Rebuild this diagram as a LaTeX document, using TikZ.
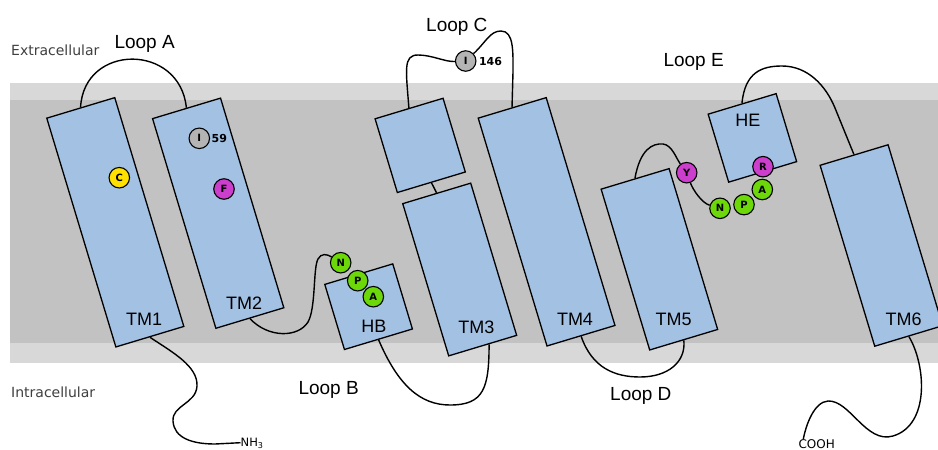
\documentclass[tikz,border=0pt]{standalone}
\usepackage{fontspec}
\newfontfamily\labelfont{Liberation Sans}
\newfontfamily\notefont{DejaVu Sans}
\usetikzlibrary{calc}
\pgfdeclarelayer{membrane}
\pgfdeclarelayer{chain}
\pgfsetlayers{membrane,chain,main}

\definecolor{bandlight}{HTML}{D8D8D8}
\definecolor{banddark}{HTML}{C2C2C2}
\definecolor{helixblue}{HTML}{A2C1E3}
\definecolor{resyellow}{HTML}{FFE000}
\definecolor{resmagenta}{HTML}{CC3FCC}
\definecolor{resgreen}{HTML}{6CD80A}
\definecolor{resgray}{HTML}{B4B4B4}
\definecolor{sidegray}{HTML}{3F3F3F}

\begin{document}
\begin{tikzpicture}[x=1pt, y=-1pt,
  helix/.style={rectangle, draw=black, line width=1.3pt, fill=helixblue,
    minimum width=71pt, inner sep=0pt, rotate=16.8},
  residue/.style={circle, draw=black, line width=1.1pt, minimum size=20.5pt,
    inner sep=0pt, font=\notefont\bfseries\fontsize{10}{10}\selectfont},
  chainline/.style={line width=1.4pt, draw=black},
  tmlabel/.style={anchor=base, inner sep=0pt, font=\labelfont\fontsize{18}{18}\selectfont},
  looplabel/.style={anchor=base west, inner sep=0pt, font=\labelfont\fontsize{19}{19}\selectfont},
  sidelabel/.style={anchor=base west, inner sep=0pt, text=sidegray, font=\notefont\fontsize{14}{14}\selectfont},
  numlabel/.style={anchor=west, inner sep=0pt, font=\notefont\bfseries\fontsize{11}{11}\selectfont},
  endlabel/.style={inner sep=0pt, font=\notefont\fontsize{12}{12}\selectfont}
]
\useasboundingbox (0,0) rectangle (938,450);

% membrane bands
\begin{pgfonlayer}{membrane}
  \fill[bandlight] (10,83) rectangle (938,363);
  \fill[banddark] (10,100) rectangle (938,343);
\end{pgfonlayer}

% helices
\node[helix, minimum height=239pt] (tm1) at (115.3,222.3) {};
\node[helix, minimum height=219pt] (tm2) at (218.2,213.2) {};
\node[helix, minimum height=77pt]  (h3a) at (420.2,145.4) {};
\node[helix, minimum height=159pt] (tm3) at (459.7,269.5) {};
\node[helix, minimum height=238pt] (tm4) at (546.6,221.8) {};
\node[helix, minimum height=68pt]  (hb)  at (368.6,306.7) {};
\node[helix, minimum height=168pt] (tm5) at (659.4,259.3) {};
\node[helix, minimum height=71pt]  (he)  at (752.4,137.9) {};
\node[helix, minimum height=189pt] (tm6) at (881.4,245.5) {};

% helix names
\node[tmlabel] (tm1lab) at (144.2,325) {TM1};
\node[tmlabel] (tm2lab) at (244.2,309.3) {TM2};
\node[tmlabel] (hblab)  at (373.8,332.7) {HB};
\node[tmlabel] (tm3lab) at (476.3,333.3) {TM3};
\node[tmlabel] (tm4lab) at (575,325) {TM4};
\node[tmlabel] (tm5lab) at (673.7,325.7) {TM5};
\node[tmlabel] (tm6lab) at (903.7,325.7) {TM6};
\node[tmlabel] (helab)  at (747.8,126) {HE};

% residues
\node[residue, fill=resyellow]  (resC)    at (119.3,177.7) {C};
\node[residue, fill=resgray]    (resI59)  at (199.3,138.3) {I};
\node[residue, fill=resmagenta] (resF)    at (224,189) {F};
\node[residue, fill=resgray]    (resI146) at (465.7,61) {I};
\node[residue, fill=resgreen]   (resNb)   at (340.7,262.7) {N};
\node[residue, fill=resgreen]   (resPb)   at (357.7,280.7) {P};
\node[residue, fill=resgreen]   (resAb)   at (373.3,296.7) {A};
\node[residue, fill=resmagenta] (resY)    at (686.7,172.7) {Y};
\node[residue, fill=resgreen]   (resNe)   at (720,208.3) {N};
\node[residue, fill=resgreen]   (resPe)   at (744,204.6) {P};
\node[residue, fill=resgreen]   (resAe)   at (762.3,189.5) {A};
\node[residue, fill=resmagenta] (resR)    at (763,166.7) {R};

\node[numlabel] (num59)  at (211.5,138.6) {59};
\node[numlabel] (num146) at (478.8,61.5) {146};

% loop names and sides
\node[looplabel] (loopA) at (114.3,48.3) {Loop A};
\node[looplabel] (loopB) at (298.3,394.5) {Loop B};
\node[looplabel] (loopC) at (426,31.7) {Loop C};
\node[looplabel] (loopD) at (610,400) {Loop D};
\node[looplabel] (loopE) at (663.3,66.7) {Loop E};
\node[sidelabel] (extra) at (11,55) {Extracellular};
\node[sidelabel] (intra) at (11,397.3) {Intracellular};

\node[endlabel, anchor=base west, font=\notefont\fontsize{11.5}{11.5}\selectfont] (nh3) at (240.5,446.5) {NH\textsubscript{3}};
\node[endlabel, anchor=base] (cooh) at (816.7,448) {COOH};

% polypeptide chain
\begin{pgfonlayer}{chain}
  % N-terminus
  \draw[chainline] (tm1.south) .. controls (172,352) and (198,366) .. (197,386)
    .. controls (196,404) and (172,405) .. (173,421)
    .. controls (174,438) and (192,444) .. (215,444) -- ([yshift=3.8pt]nh3.base west);
  % loop A
  \draw[chainline] (tm1.north) .. controls (84,43) and (180,43) .. (tm2.north);
  % loop B
  \draw[chainline] (tm2.south) .. controls (268,338) and (298,338) .. (308,322)
    .. controls (316,308) and (313,268) .. (318,259)
    .. controls (321,253) and (327,254) .. (resNb);
  \draw[chainline] (hb.south) .. controls (398,385) and (420,405) .. (450,405)
    .. controls (484,405) and (489,388) .. ($(tm3.south)!0.18!(tm3.south east)$);
  % short link inside TM3
  \draw[chainline] (h3a.south) -- (tm3.north);
  % loop C
  \draw[chainline] (h3a.north) .. controls (406,70) and (403,55) .. (418,55)
    .. controls (432,55) and (445,62) .. (resI146);
  \draw[chainline] (resI146) .. controls (486,42) and (490,31) .. (501,31)
    .. controls (514,31) and (513,52) .. (513,72) -- (tm4.north);
  % loop D
  \draw[chainline] (tm4.south) .. controls (592,368) and (615,377) .. (640,377)
    .. controls (668,377) and (686,362) .. (tm5.south);
  % loop E
  \draw[chainline] (tm5.north) .. controls (640,150) and (652,143) .. (663,144)
    .. controls (672,145) and (676,158) .. (resY);
  \draw[chainline] (resY) .. controls (693,190) and (702,203) .. (resNe);
  \draw[chainline] (he.north) .. controls (745,72) and (762,66) .. (782,66)
    .. controls (808,66) and (826,86) .. (835,108) -- (tm6.north);
  % C-terminus
  \draw[chainline] (tm6.south) .. controls (926,365) and (930,425) .. (893,436)
    .. controls (866,444) and (850,400) .. (828,401)
    .. controls (814,402) and (806,425) .. ([xshift=5pt]cooh.north west);
\end{pgfonlayer}
\end{tikzpicture}
\end{document}
